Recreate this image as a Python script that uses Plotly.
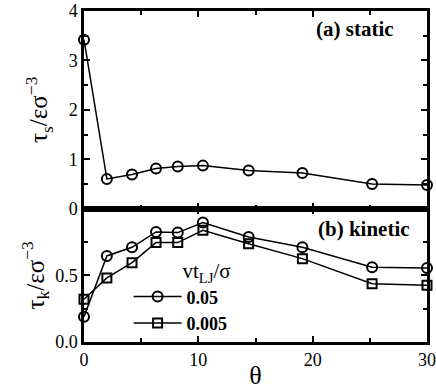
import plotly.graph_objects as go
from plotly.subplots import make_subplots

# angle theta and stresses
theta = [0, 2, 4.2, 6.3, 8.2, 10.4, 14.4, 19.1, 25.2, 30]
tau_static = [3.42, 0.60, 0.69, 0.81, 0.85, 0.87, 0.77, 0.72, 0.50, 0.48]
tau_kin_005 = [0.19, 0.645, 0.71, 0.825, 0.82, 0.895, 0.787, 0.71, 0.56, 0.555]
tau_kin_0005 = [0.32, 0.48, 0.595, 0.745, 0.745, 0.837, 0.737, 0.625, 0.437, 0.425]

FONT = "Liberation Serif"

fig = make_subplots(rows=2, cols=1, shared_xaxes=True, vertical_spacing=0,
                    row_heights=[197, 133])

line = dict(color="black", width=1.5)
circ = dict(symbol="circle-open", size=10, color="black", line=dict(width=2, color="black"))
sq = dict(symbol="square-open", size=9, color="black", line=dict(width=2, color="black"))

fig.add_trace(go.Scatter(x=theta, y=tau_static, mode="lines+markers", line=line,
                         marker=circ, showlegend=False, cliponaxis=False), row=1, col=1)
fig.add_trace(go.Scatter(x=theta, y=tau_kin_005, mode="lines+markers", line=line,
                         marker=circ, name="<b>0.05</b>", cliponaxis=False), row=2, col=1)
fig.add_trace(go.Scatter(x=theta, y=tau_kin_0005, mode="lines+markers", line=line,
                         marker=sq, name="<b>0.005</b>", cliponaxis=False), row=2, col=1)

ax = dict(showline=True, linecolor="black", linewidth=2.5, mirror="ticks",
          ticks="inside", tickcolor="black", tickwidth=2, ticklen=6, automargin=False,
          showgrid=False, zeroline=False, tickfont=dict(family=FONT, size=18, color="black"))

fig.update_xaxes(**ax, range=[0, 30], dtick=10,
                 minor=dict(dtick=5, ticks="inside", ticklen=4, tickcolor="black", tickwidth=2))
fig.update_xaxes(title=dict(text="θ", font=dict(family=FONT, size=26, color="black"), standoff=0),
                 row=2, col=1)
fig.update_yaxes(**ax)
fig.update_yaxes(range=[0, 4], tickvals=[0, 1, 2, 3, 4],
                 minor=dict(dtick=0.5, ticks="inside", ticklen=4, tickcolor="black", tickwidth=2),
                 title=dict(text="τ<sub>s</sub>/εσ<sup>−3</sup>",
                            font=dict(family=FONT, size=25, color="black"), standoff=14),
                 row=1, col=1)
fig.update_yaxes(range=[0, 1.0], tickvals=[0, 0.5], ticktext=["0.0", "0.5"],
                 minor=dict(dtick=0.25, ticks="inside", ticklen=4, tickcolor="black", tickwidth=2),
                 title=dict(text="τ<sub>k</sub>/εσ<sup>−3</sup>",
                            font=dict(family=FONT, size=25, color="black"), standoff=4),
                 row=2, col=1)

fig.add_annotation(text="<b>(a) static</b>", xref="x domain", yref="y domain", x=0.91, y=0.91,
                   xanchor="right", yanchor="middle", showarrow=False,
                   font=dict(family=FONT, size=21, color="black"))
fig.add_annotation(text="<b>(b) kinetic</b>", xref="x2 domain", yref="y2 domain", x=0.955, y=0.85,
                   xanchor="right", yanchor="middle", showarrow=False,
                   font=dict(family=FONT, size=21, color="black"))

fig.update_layout(
    width=436, height=390,
    margin=dict(l=84, r=9, t=11, b=48),
    paper_bgcolor="white", plot_bgcolor="white",
    font=dict(family=FONT, color="black"),
    legend=dict(x=0.13, y=0.275, xanchor="left", yanchor="top",
                bgcolor="rgba(0,0,0,0)", tracegroupgap=0, itemwidth=48,
                title=dict(text="vt<sub>LJ</sub>/σ", side="top right",
                           font=dict(family=FONT, size=21, color="black")),
                font=dict(family=FONT, size=18, color="black")),
)

# drop the default page margin so the figure sits at the window corner
fig.write_html("out.html", config={"displayModeBar": False},
               post_script="document.body.style.margin='0';")
